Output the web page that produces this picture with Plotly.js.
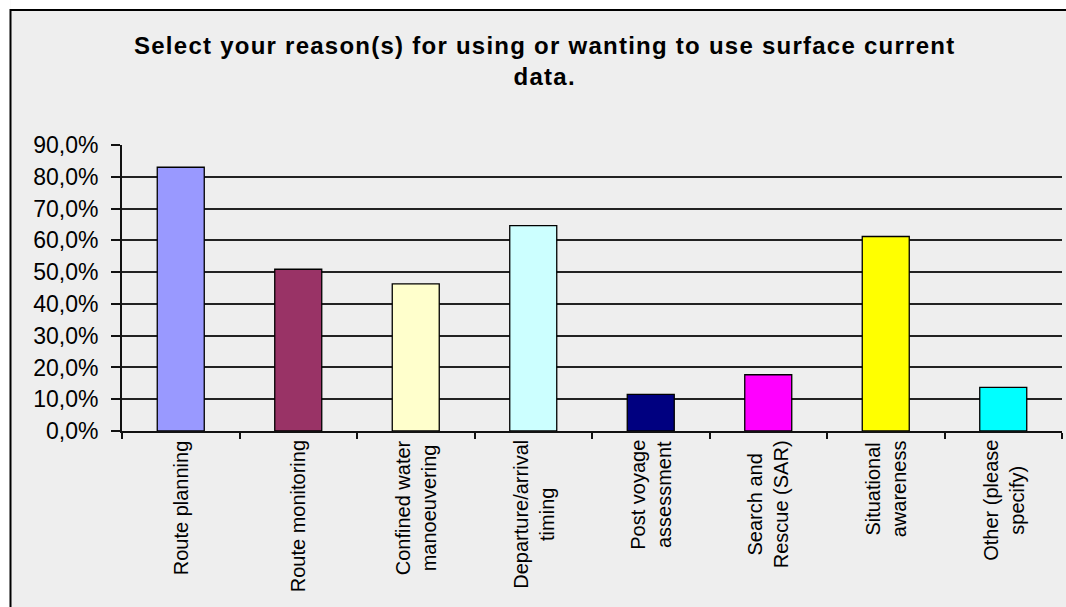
<!DOCTYPE html>
<html>
<head>
<meta charset="utf-8">
<script src="https://cdn.plot.ly/plotly-3.0.1.min.js"></script>
<style>
  html, body { margin: 0; padding: 0; background: #ffffff; overflow: hidden; }
  #chart { width: 1066px; height: 607px; }
  .gtitle { letter-spacing: 1.25px; }
</style>
</head>
<body>
<div id="chart"></div>
<script>
// ---- Data ----
const categories = [
  "Route planning",
  "Route monitoring",
  "Confined water<br>manoeuvering",
  "Departure/arrival<br>timing",
  "Post voyage<br>assessment",
  "Search and<br>Rescue (SAR)",
  "Situational<br>awareness",
  "Other (please<br>specify)"
];
const values = [0.830, 0.509, 0.463, 0.646, 0.115, 0.177, 0.612, 0.137];
const barColors = ["#9999FF", "#993366", "#FFFFCC", "#CCFFFF", "#000080", "#FF00FF", "#FFFF00", "#00FFFF"];
const titleText = "Select your reason(s) for using or wanting to use surface current<br>data.";
const yTickValues = [0, 0.1, 0.2, 0.3, 0.4, 0.5, 0.6, 0.7, 0.8, 0.9];

const FONT = "Arial, 'Liberation Sans', Helvetica, sans-serif";

const trace = {
  type: "bar",
  x: categories,
  y: values,
  width: 0.4,
  marker: { color: barColors, line: { color: "#000000", width: 1.3 } },
  hoverinfo: "x+y"
};

const annotations = categories.map(c => ({
  x: c, xref: "x",
  y: 0, yref: "paper",
  text: c,
  textangle: -90,
  align: "center",
  xanchor: "center",
  yanchor: "top",
  yshift: -7,
  showarrow: false,
  font: { family: FONT, size: 20, color: "#000000" }
}));

const fx0 = (10.5 - 122) / 940;
const fy1 = (431 - 10) / 286;

const layout = {
  width: 1066,
  height: 607,
  margin: { l: 122, r: 4, t: 145, b: 176, pad: 0 },
  paper_bgcolor: "#eeeeee",
  plot_bgcolor: "rgba(0,0,0,0)",
  separators: ", ",
  showlegend: false,
  bargap: 0.6,
  title: {
    text: "<b>" + titleText + "</b>",
    font: { family: FONT, size: 24, color: "#000000" },
    x: 0.511, xanchor: "center", xref: "container",
    y: 1 - 54 / 607, yanchor: "top", yref: "container"
  },
  xaxis: {
    type: "category",
    showticklabels: false,
    ticks: "outside",
    tickson: "boundaries",
    ticklen: 6,
    tickwidth: 2,
    tickcolor: "#111111",
    showline: true,
    linecolor: "#111111",
    linewidth: 2,
    showgrid: false,
    zeroline: false,
    fixedrange: true
  },
  yaxis: {
    range: [0, 0.9],
    tickvals: yTickValues,
    tickformat: ".1%",
    ticks: "outside",
    ticklen: 9,
    tickwidth: 2,
    tickcolor: "#111111",
    ticklabelstandoff: 8,
    showline: true,
    linecolor: "#111111",
    linewidth: 2,
    showgrid: true,
    gridcolor: "#222222",
    gridwidth: 2,
    zeroline: false,
    tickfont: { family: FONT, size: 23, color: "#000000" },
    fixedrange: true
  },
  shapes: [
    {
      type: "rect",
      xref: "paper", yref: "paper",
      x0: -0.2, x1: fx0,
      y0: -0.9, y1: 2.0,
      fillcolor: "#ffffff",
      line: { width: 0 },
      layer: "below"
    },
    {
      type: "rect",
      xref: "paper", yref: "paper",
      x0: fx0, x1: 1.3,
      y0: fy1, y1: 2.0,
      fillcolor: "#ffffff",
      line: { width: 0 },
      layer: "below"
    },
    {
      type: "path",
      xref: "paper", yref: "paper",
      path: "M " + fx0 + "," + (-0.9) + " L " + fx0 + "," + fy1 + " L 1.3," + fy1,
      line: { color: "#000000", width: 2 },
      layer: "below"
    }
  ],
  annotations: annotations
};

Plotly.newPlot("chart", [trace], layout, { displayModeBar: false, staticPlot: true });
</script>
</body>
</html>
